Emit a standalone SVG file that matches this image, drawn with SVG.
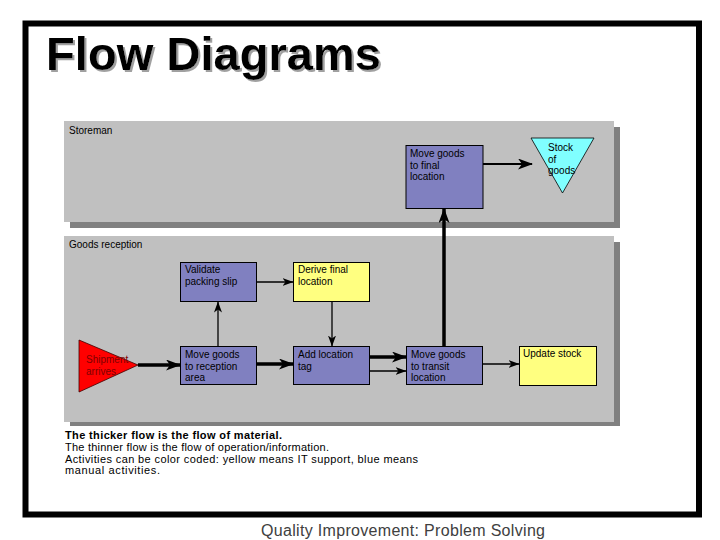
<svg xmlns="http://www.w3.org/2000/svg" width="720" height="540" viewBox="0 0 720 540">
<defs>
<style>
.t{font-family:"Liberation Sans",Arial,sans-serif;font-size:10px;fill:#000}
.n{font-family:"Liberation Sans",Arial,sans-serif;font-size:11px;fill:#000}
.lane{fill:#c0c0c0}
.sh{fill:#808080}
.blue{fill:#8080c0;stroke:#000;stroke-width:1}
.yel{fill:#ffff80;stroke:#000;stroke-width:1}
.thick{stroke:#000;stroke-width:3.5;fill:none;marker-end:url(#ah1)}
.mid{stroke:#000;stroke-width:2;fill:none;marker-end:url(#ah1)}
.thin{stroke:#000;stroke-width:1.3;fill:none;marker-end:url(#ah2)}
</style>
<marker id="ah1" markerUnits="userSpaceOnUse" viewBox="0 0 15 11" refX="14" refY="5.5" markerWidth="15" markerHeight="11" orient="auto">
<path d="M0,0 L15,5.5 L0,11 L4,5.5 z" fill="#000"/>
</marker>
<marker id="ah2" markerUnits="userSpaceOnUse" viewBox="0 0 11 8" refX="10.5" refY="4" markerWidth="11" markerHeight="8" orient="auto">
<path d="M0,0 L11,4 L0,8 L3,4 z" fill="#000"/>
</marker>
<filter id="ds" x="-5%" y="-20%" width="115%" height="150%">
<feOffset in="SourceAlpha" dx="2" dy="2" result="o"/>
<feFlood flood-color="#a0a0a0"/>
<feComposite in2="o" operator="in" result="s"/>
<feMerge><feMergeNode in="s"/><feMergeNode in="SourceGraphic"/></feMerge>
</filter>
</defs>
<rect width="720" height="540" fill="#fff"/>
<rect x="25.5" y="23.5" width="673.5" height="491" fill="none" stroke="#000" stroke-width="6"/>
<text x="46" y="70" filter="url(#ds)" textLength="335" style="font-family:'Liberation Sans',Arial,sans-serif;font-size:47px;font-weight:bold;fill:#000">Flow Diagrams</text>

<g id="lane-storeman">
<rect class="sh" x="70" y="127" width="550" height="101"/>
<rect class="lane" x="64" y="121" width="550" height="101"/>
<text class="t" x="69" y="134">Storeman</text>
</g>
<g id="lane-goods-reception">
<rect class="sh" x="70" y="242" width="550" height="184"/>
<rect class="lane" x="64" y="236" width="550" height="186"/>
<text class="t" x="69" y="248">Goods reception</text>
</g>

<g id="node-move-final">
<rect class="blue" x="406" y="145.5" width="77" height="63"/>
<text class="t" x="410" y="157">Move goods</text>
<text class="t" x="410" y="168.5">to final</text>
<text class="t" x="410" y="180">location</text>
</g>
<g id="node-stock">
<path d="M531,138 L594,138 L562.5,193 z" fill="#80ffff" stroke="#000" stroke-width="0.8"/>
<text class="t" x="548" y="151">Stock</text>
<text class="t" x="548" y="162.5">of</text>
<text class="t" x="548" y="174">goods</text>
</g>
<g id="node-validate">
<rect class="blue" x="180.5" y="262.5" width="76" height="39"/>
<text class="t" x="185" y="273">Validate</text>
<text class="t" x="185" y="285">packing slip</text>
</g>
<g id="node-derive">
<rect class="yel" x="293.5" y="262.5" width="76" height="39"/>
<text class="t" x="298" y="273">Derive final</text>
<text class="t" x="298" y="285">location</text>
</g>
<g id="node-shipment">
<path d="M79,340 L79,392 L138,365 z" fill="#ff0000" stroke="#400000" stroke-width="0.8"/>
<text class="t" x="86" y="363" style="fill:#800000">Shipment</text>
<text class="t" x="86" y="374.5" style="fill:#800000">arrives</text>
</g>
<g id="node-move-reception">
<rect class="blue" x="180.5" y="346.5" width="76" height="38"/>
<text class="t" x="185" y="358">Move goods</text>
<text class="t" x="185" y="369.5">to reception</text>
<text class="t" x="185" y="381">area</text>
</g>
<g id="node-add-tag">
<rect class="blue" x="293.5" y="346.5" width="76" height="38"/>
<text class="t" x="298" y="358">Add location</text>
<text class="t" x="298" y="369.5">tag</text>
</g>
<g id="node-move-transit">
<rect class="blue" x="406.5" y="346.5" width="76" height="38"/>
<text class="t" x="411" y="358">Move goods</text>
<text class="t" x="411" y="369.5">to transit</text>
<text class="t" x="411" y="381">location</text>
</g>
<g id="node-update-stock">
<rect class="yel" x="519.5" y="346.5" width="77" height="39"/>
<text class="t" x="523" y="357">Update stock</text>
</g>

<g id="connectors">
<path class="thick" d="M138,365 L180,365"/>
<path class="thick" d="M256,364 L293,364"/>
<path class="thin" d="M218,346 L218,302"/>
<path class="thin" d="M256,282 L293,282"/>
<path class="thin" d="M332,301 L332,346"/>
<path class="thick" d="M369,357 L406,357"/>
<path class="thin" d="M369,371 L406,371"/>
<path class="thin" d="M482,364 L519,364"/>
<path class="thick" d="M444,346 L444,209"/>
<path class="mid" d="M483,164 L532,164"/>
</g>

<g id="notes">
<text class="n" x="65" y="439" textLength="217" style="font-weight:bold">The thicker flow is the flow of material.</text>
<text class="n" x="65" y="451" textLength="264">The thinner flow is the flow of operation/information.</text>
<text class="n" x="65" y="462.5" textLength="353">Activities can be color coded: yellow means IT support, blue means</text>
<text class="n" x="65" y="474" textLength="95">manual activities.</text>
</g>
<text x="261" y="536" textLength="284" style="font-family:'Liberation Sans',Arial,sans-serif;font-size:16px;fill:#404040">Quality Improvement: Problem Solving</text>
</svg>
